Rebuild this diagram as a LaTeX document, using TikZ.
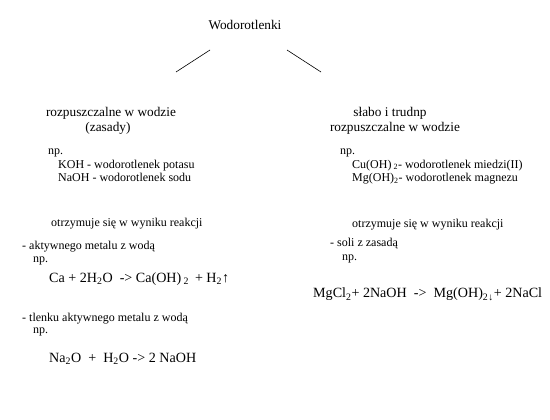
\documentclass[tikz,border=0pt]{standalone}
\usepackage{fontspec}
\setmainfont{Liberation Serif}
\newfontfamily\tnrfont{Liberation Serif}
\begin{document}
\begin{tikzpicture}[x=1pt,y=-1pt,
  big/.style={inner sep=0pt, font=\tnrfont\fontsize{13.3}{16}\selectfont},
  txt/.style={inner sep=0pt, anchor=base west, font=\tnrfont\fontsize{12}{14}\selectfont},
  eq/.style={inner sep=0pt, anchor=base west, font=\tnrfont\fontsize{14.1}{17}\selectfont},
  branch/.style={line width=0.6pt}]
\useasboundingbox (0,0) rectangle (550,420);
% title
\node[big, anchor=base] (title) at (245,29.5) {Wodorotlenki};
\coordinate (l1) at (210,50); \coordinate (l2) at (176,72);
\coordinate (r1) at (287,50); \coordinate (r2) at (321,72);
\draw[branch] (l1) -- (l2);
\draw[branch] (r1) -- (r2);
% left column
\node[big, anchor=base] (lh1) at (111,116.5) {rozpuszczalne w wodzie};
\node[big, anchor=base] (lh2) at (108,131.5) {(zasady)};
\node[txt] (lnp) at (48,154) {np.};
\node[txt] (lkoh) at (58,168) {KOH - wodorotlenek potasu};
\node[txt] (lnaoh) at (58,182) {NaOH - wodorotlenek sodu};
\node[txt] (lotrz) at (51,226) {otrzymuje się w wyniku reakcji};
\node[txt] (lakt) at (22,249) {- aktywnego metalu z wodą};
\node[txt] (lnp2) at (33,262.5) {np.};
\node[eq] (leq1) at (49,282) {Ca + 2H\textsubscript{2}O \ -> Ca(OH)\,\textsubscript{2} \,+ H\textsubscript{2}↑};
\node[txt] (ltl) at (22,321) {- tlenku aktywnego metalu z wodą};
\node[txt] (lnp3) at (33,334) {np.};
\node[eq] (leq2) at (49,362) {Na\textsubscript{2}O \ + \ H\textsubscript{2}O -> 2 NaOH};
% right column
\node[big, anchor=base] (rh1) at (390,116.5) {słabo i trudnp};
\node[big, anchor=base] (rh2) at (395,131.5) {rozpuszczalne w wodzie};
\node[txt] (rnp) at (340,154) {np.};
\node[txt] (rcu) at (352,168) {Cu(OH)\,\textsubscript{2}- wodorotlenek miedzi(II)};
\node[txt] (rmg) at (352,182) {Mg(OH)\textsubscript{2}- wodorotlenek magnezu};
\node[txt] (rotrz) at (352,227) {otrzymuje się w wyniku reakcji};
\node[txt] (rsoli) at (330,247) {- soli z zasadą};
\node[txt] (rnp2) at (342,260.5) {np.};
\node[eq] (req) at (313,298) {MgCl\textsubscript{2}+ 2NaOH \ -> \ Mg(OH)\textsubscript{2}\textsubscript{↓}+ 2NaCl};
\end{tikzpicture}
\end{document}
